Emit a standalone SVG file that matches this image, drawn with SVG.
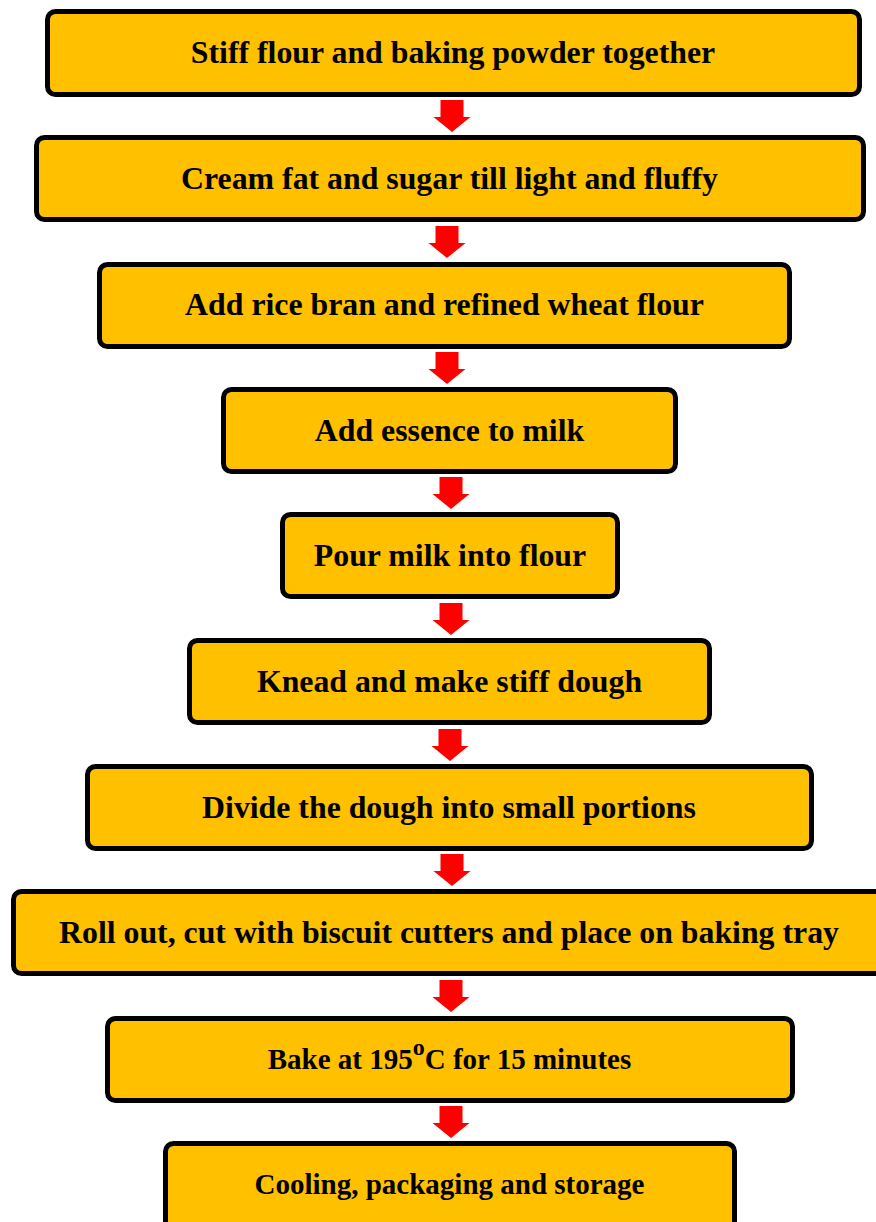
<svg xmlns="http://www.w3.org/2000/svg" width="876" height="1222" viewBox="0 0 876 1222">
<style>
.box{fill:#FFC000;stroke:#000;stroke-width:5}
.t{font-family:"Liberation Serif","Times New Roman",serif;font-weight:bold;font-size:31.8px;fill:#000;text-anchor:middle}
.s{font-size:29px}
.arr{fill:#FF0000}
</style>
<defs>
<path id="arrow" d="M-11.5,0 H11.5 V17 H18.5 L0,32 L-18.5,17 H-11.5 Z"/>
</defs>
<rect width="876" height="1222" fill="#fff"/>
<g id="connectors" class="arr">
<use href="#arrow" x="452" y="100"/>
<use href="#arrow" x="447" y="226"/>
<use href="#arrow" x="447" y="352"/>
<use href="#arrow" x="451" y="477"/>
<use href="#arrow" x="451" y="603"/>
<use href="#arrow" x="450" y="729"/>
<use href="#arrow" x="452" y="854"/>
<use href="#arrow" x="451" y="980"/>
<use href="#arrow" x="451" y="1106"/>
</g>
<g id="n1"><rect class="box" x="47.5" y="11.5" width="812" height="83" rx="8"/><text class="t" x="453" y="63">Stiff flour and baking powder together</text></g>
<g id="n2"><rect class="box" x="36.5" y="137.5" width="827" height="82" rx="8"/><text class="t" x="449.5" y="189">Cream fat and sugar till light and fluffy</text></g>
<g id="n3"><rect class="box" x="99.5" y="264.5" width="690" height="82" rx="8"/><text class="t" x="444.5" y="315">Add rice bran and refined wheat flour</text></g>
<g id="n4"><rect class="box" x="223.5" y="389.5" width="452" height="82" rx="8"/><text class="t" x="449.5" y="441">Add essence to milk</text></g>
<g id="n5"><rect class="box" x="282.5" y="514.5" width="335" height="82" rx="8"/><text class="t" x="450" y="566">Pour milk into flour</text></g>
<g id="n6"><rect class="box" x="189.5" y="640.5" width="520" height="82" rx="8"/><text class="t" x="449.5" y="692">Knead and make stiff dough</text></g>
<g id="n7"><rect class="box" x="87.5" y="766.5" width="724" height="82" rx="8"/><text class="t" x="449" y="818">Divide the dough into small portions</text></g>
<g id="n8"><rect class="box" x="13.5" y="891.5" width="880" height="82" rx="8"/><text class="t" x="449" y="943">Roll out, cut with biscuit cutters and place on baking tray</text></g>
<g id="n9"><rect class="box" x="107.5" y="1018.5" width="685" height="82" rx="8"/><text class="t s" x="449.5" y="1068.5">Bake at 195<tspan font-size="24" dy="-14">o</tspan><tspan dy="14">C for 15 minutes</tspan></text></g>
<g id="n10"><rect class="box" x="165.5" y="1143.5" width="569" height="90" rx="8"/><text class="t s" x="449.5" y="1194">Cooling, packaging and storage</text></g>
</svg>
